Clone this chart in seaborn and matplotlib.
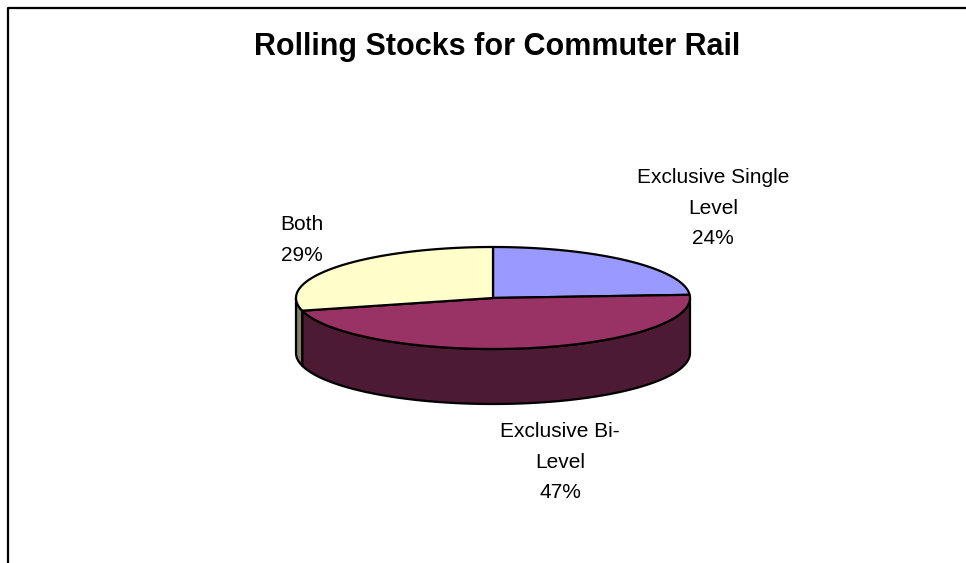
import numpy as np
import matplotlib
matplotlib.use("Agg")
import matplotlib.pyplot as plt
from matplotlib.patches import Polygon
import seaborn as sns

sns.set_style("white")
plt.rcParams["font.family"] = ["Liberation Sans", "DejaVu Sans"]
plt.rcParams["text.color"] = "black"

# Data
categories = ["Exclusive Single Level", "Exclusive Bi-Level", "Both"]
label_texts = ["Exclusive Single\nLevel", "Exclusive Bi-\nLevel", "Both"]
shares = [24, 47, 29]
top_colors = ["#9999FF", "#993366", "#FFFFCC"]
side_colors = ["#4D4D80", "#4C1A33", "#808066"]

W, H = 966, 563
fig = plt.figure(figsize=(W / 100, H / 100), dpi=100)
ax = fig.add_axes([0, 0, 1, 1])
ax.set_xlim(0, W)
ax.set_ylim(H, 0)
ax.axis("off")

# chart frame (left and top edges)
ax.plot([8, 8, W], [H, 8, 8], color="black", lw=1.6, solid_capstyle="butt")

ax.text(497, 55, "Rolling Stocks for Commuter Rail", ha="center", va="baseline",
        fontsize=22, fontweight="bold")

# 3-D pie geometry
cx, cy, rx, ry, depth = 493, 298, 197, 51, 55


def pt(theta_deg, dy=0.0):
    t = np.radians(theta_deg)
    return cx + rx * np.cos(t), cy - ry * np.sin(t) + dy


fracs = np.array(shares, dtype=float) / sum(shares)
starts = 90 - 360 * np.concatenate([[0], np.cumsum(fracs)[:-1]])
ends = starts - 360 * fracs

# side walls: only the front half (angles between -180 and 0) is visible
for s, e, col in zip(starts, ends, side_colors):
    for k in (0, -360):
        a0, a1 = min(s, e) + k, max(s, e) + k
        lo, hi = max(a0, -180), min(a1, 0)
        if hi <= lo:
            continue
        th = np.linspace(lo, hi, 120)
        top = [pt(t) for t in th]
        bot = [pt(t, depth) for t in th[::-1]]
        ax.add_patch(Polygon(top + bot, closed=True, facecolor=col,
                             edgecolor="black", lw=1.6, joinstyle="round"))

# top faces
for s, e, col in zip(starts, ends, top_colors):
    th = np.linspace(s, e, 200)
    pts = [(cx, cy)] + [pt(t) for t in th]
    ax.add_patch(Polygon(pts, closed=True, facecolor=col,
                         edgecolor="black", lw=1.6, joinstyle="round"))

# data labels
label_pos = [(713, 208), (560, 462), (302, 240)]
for (x, y), txt, v in zip(label_pos, label_texts, shares):
    ax.text(x, y, f"{txt}\n{v}%", ha="center", va="center", fontsize=15,
            linespacing=1.75)

fig.savefig("out.png", dpi=100)
